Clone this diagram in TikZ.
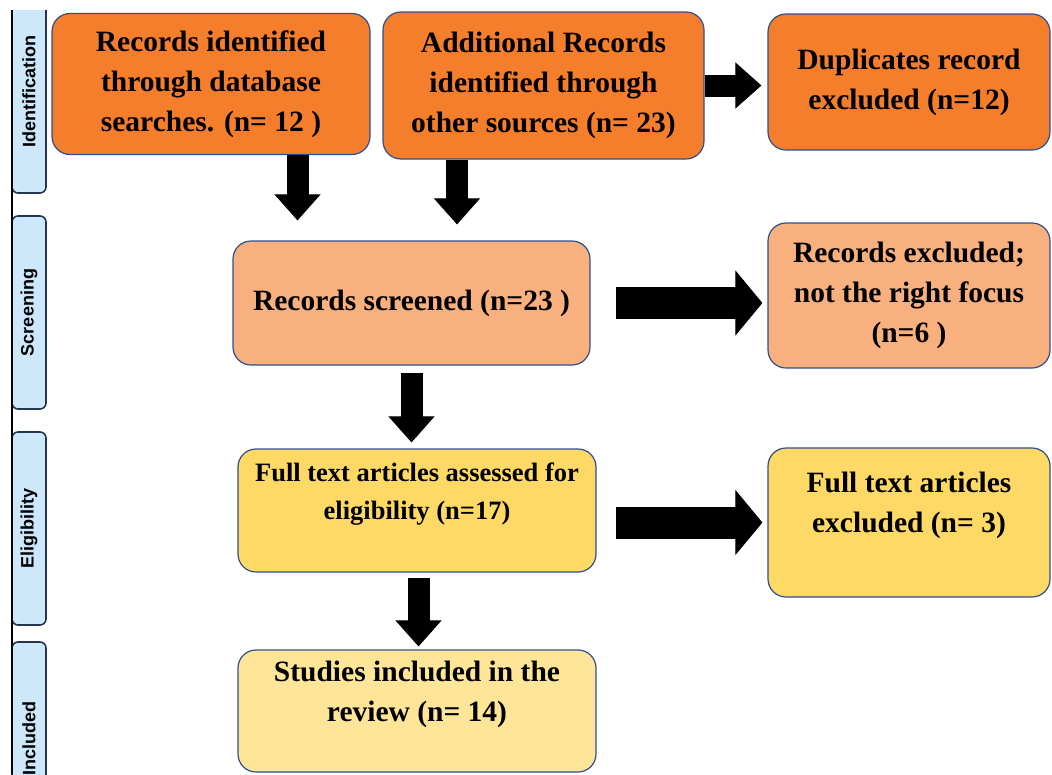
\documentclass[tikz,border=0pt]{standalone}
\usepackage{fontspec}
\setmainfont{Liberation Serif}
\setsansfont{Liberation Sans}
\usetikzlibrary{arrows.meta}
\definecolor{idorange}{HTML}{F47E2C}
\definecolor{scrorange}{HTML}{F8B07E}
\definecolor{eliyellow}{HTML}{FED966}
\definecolor{incyellow}{HTML}{FFE597}
\definecolor{tabblue}{HTML}{CDE7FB}
\definecolor{boxline}{HTML}{2E4F8F}
\definecolor{tabline}{HTML}{253550}
\newcommand{\boxtxt}{\bfseries\fontsize{29.5}{40}\selectfont}

\begin{document}
\begin{tikzpicture}[x=1pt,y=-1pt,
    flowbox/.style={draw=boxline,line width=1.2pt,rounded corners=18pt,align=center,inner sep=0pt,font=\boxtxt},
    sidetab/.style={draw=tabline,line width=1.6pt,fill=tabblue,rounded corners=6pt,rotate=90,minimum height=34pt,inner sep=0pt,font=\sffamily\bfseries\fontsize{18}{18}\selectfont},
    vblock/.style={line width=22pt,-{Triangle[width=46pt,length=26pt,line width=1pt]}},
    hblock/.style={line width=32pt,-{Triangle[width=65pt,length=27pt,line width=1pt]}}]
    \useasboundingbox (0,0) rectangle (1052,774);
    \clip (0,0) rectangle (1052,774);
    \begin{scope}
      \clip (0,10) rectangle (60,774);
      \node[sidetab,minimum width=203pt] (tabid) at (29,91.5) {Identification};
      \node[sidetab,minimum width=193pt] (tabscr) at (29,312.5) {Screening};
      \node[sidetab,minimum width=193pt] (tabeli) at (29,528.5) {Eligibility};
      \node[sidetab,minimum width=193pt] (tabinc) at (29,738.5) {Included};
      \draw[line width=2pt] (12,10) -- (12,774);
    \end{scope}
    \node[flowbox,fill=idorange,minimum width=318pt,minimum height=141pt] (dbrec) at (211,84)
      {Records identified\\through database\\searches. (n= 12 )};
    \node[flowbox,fill=idorange,minimum width=321pt,minimum height=147pt] (addrec) at (543.5,85.5)
      {Additional Records\\identified through\\other sources (n= 23)};
    \node[flowbox,fill=idorange,minimum width=282pt,minimum height=136pt] (dupl) at (909,82)
      {Duplicates record\\excluded (n=12)};
    \node[flowbox,fill=scrorange,minimum width=357pt,minimum height=124pt] (screened) at (411.5,303)
      {Records screened (n=23 )};
    \node[flowbox,fill=scrorange,minimum width=282pt,minimum height=145pt] (recexcl) at (909,295.5)
      {Records excluded;\\not the right focus\\(n=6 )};
    \node[flowbox,fill=eliyellow,minimum width=358pt,minimum height=123pt,font=\bfseries\fontsize{26.5}{38}\selectfont] (fullass) at (417,510.5)
      {Full text articles assessed for\\eligibility (n=17)\\\mbox{}};
    \node[flowbox,fill=eliyellow,minimum width=282pt,minimum height=149pt] (fullexcl) at (909,522.5)
      {Full text articles\\excluded (n= 3)\\\mbox{}};
    \node[flowbox,fill=incyellow,minimum width=358pt,minimum height=122pt] (studies) at (417,711)
      {Studies included in the\\review (n= 14)\\\mbox{}};
    \coordinate (dbout) at ([xshift=86.5pt]dbrec.south);
    \coordinate (addout) at ([xshift=-86.5pt]addrec.south);
    \coordinate (fullout) at ([xshift=1.5pt]fullass.south);
    \draw[vblock,shorten >=20pt] (dbout) -- (dbout |- screened.north);
    \draw[vblock,shorten >=16pt] (addout) -- (addout |- screened.north);
    \draw[vblock,shorten <=7pt,shorten >=6pt] (screened.south) -- (screened.south |- fullass.north);
    \draw[vblock,shorten <=5pt,shorten >=3pt] (fullout) -- (fullout |- studies.north);
    \draw[vblock,shorten >=6pt] (addrec.east) -- (addrec.east -| dupl.west);
    \draw[hblock,shorten <=25pt,shorten >=5pt] (screened.east) -- (screened.east -| recexcl.west);
    \draw[hblock,shorten <=19pt,shorten >=5pt] (fullass.east |- fullexcl.west) -- (fullexcl.west);
\end{tikzpicture}
\end{document}
